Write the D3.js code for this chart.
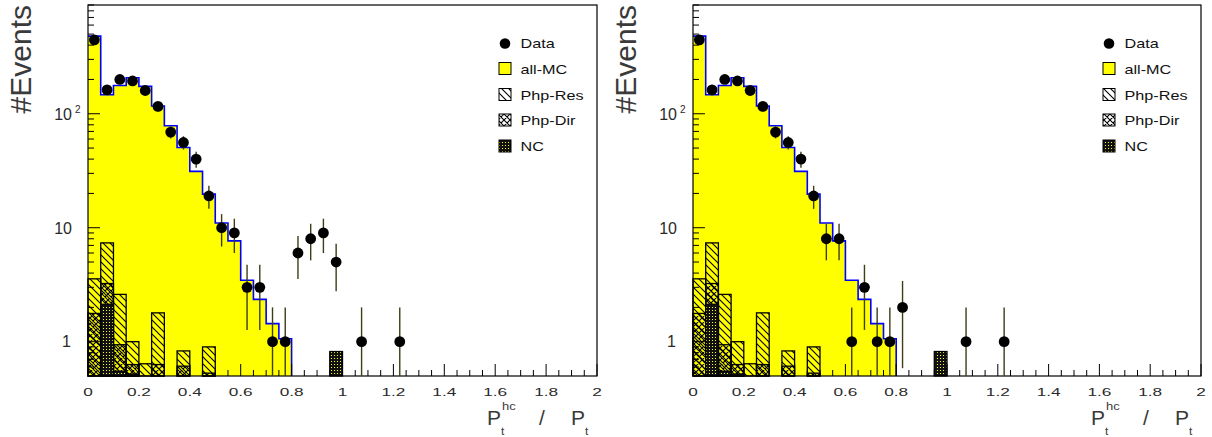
<!DOCTYPE html>
<html>
<head>
<meta charset="utf-8">
<script src="https://cdn.jsdelivr.net/npm/d3@7"></script>
<style>
  html, body { margin: 0; padding: 0; background: #fff; }
  svg { display: block; font-family: "Liberation Sans", Arial, sans-serif; }
</style>
</head>
<body>
<svg id="chart" width="1212" height="437"></svg>
<script>
// Histogram binning: 40 bins of width 0.05 on [0, 2]
const binWidth = 0.05;
const xTicks = [0, 0.2, 0.4, 0.6, 0.8, 1, 1.2, 1.4, 1.6, 1.8, 2];
const xTickLabels = ["0", "0.2", "0.4", "0.6", "0.8", "1", "1.2", "1.4", "1.6", "1.8", "2"];
const yMajor = [1, 10, 100];
const legendLabels = ["Data", "all-MC", "Php-Res", "Php-Dir", "NC"];

// Monte Carlo expectations (per bin, starting at 0)
const allMC  = [480, 147, 177, 207, 174, 117, 78.5, 50.6, 31.2, 19.7, 11, 7.66, 3.46, 2.35, 1.44, 1.06];
const phpRes = [3.56, 7.36, 2.6, 1.0, 0.64, 1.79, 0, 0.83, 0, 0.9];
const phpDir = [1.77, 3.24, 0.94, 0.63, 0, 0.63, 0, 0.61, 0, 0.53];
const ncMC   = [0, 2.13, 0.55, 0.52, 0, 0, 0, 0, 0, 0, 0, 0, 0, 0, 0, 0, 0, 0, 0, 0.82];

// Observed events per bin
const dataLeft  = [445, 162, 200, 194, 160, 116, 69, 56, 40, 19, 10, 9, 3, 3, 1, 1, 6, 8, 9, 5, 0, 1, 0, 0, 1];
const dataRight = [445, 162, 200, 194, 160, 116, 69, 56, 40, 19, 8, 8, 1, 3, 1, 1, 2, 0, 0, 0, 0, 1, 0, 0, 1];

const svg = d3.select("#chart");
const defs = svg.append("defs");
const textColor = "#2a2a2a";

// Fill patterns
const pRes = defs.append("pattern").attr("id", "hatchRes").attr("patternUnits", "userSpaceOnUse")
  .attr("width", 7).attr("height", 7);
pRes.append("path").attr("d", "M-1,-1 L8,8 M-1,6 L1,8 M6,-1 L8,1")
  .attr("stroke", "#000").attr("stroke-width", 1.1);

const pDir = defs.append("pattern").attr("id", "hatchDir").attr("patternUnits", "userSpaceOnUse")
  .attr("width", 6).attr("height", 6);
pDir.append("path").attr("d", "M-1,-1 L7,7 M-1,5 L1,7 M5,-1 L7,1 M-1,7 L7,-1 M-1,1 L1,-1 M5,7 L7,5")
  .attr("stroke", "#000").attr("stroke-width", 1.1);

const pNC = defs.append("pattern").attr("id", "dotsNC").attr("patternUnits", "userSpaceOnUse")
  .attr("width", 3).attr("height", 3);
pNC.append("rect").attr("width", 3).attr("height", 3).attr("fill", "#ffff00");
pNC.append("path").attr("d", "M0,0h3v3h-3z M1,1h1v1h-1z").attr("fill", "#111").attr("fill-rule", "evenodd");

function stretchText(g, x, y, str, size, sx, anchor, color) {
  return g.append("text")
    .attr("transform", `translate(${x},${y}) scale(${sx},1)`)
    .attr("text-anchor", anchor || "start")
    .attr("font-size", size)
    .attr("fill", color || textColor)
    .text(str);
}

function drawPanel(x0, x1, data) {
  const yTop = 5, yBot = 376;
  const x = d3.scaleLinear().domain([0, 2]).range([x0, x1]);
  const y = d3.scaleLog().domain([0.5, 900]).range([yBot, yTop]);
  const g = svg.append("g");

  // all-MC filled histogram
  const steps = [];
  allMC.forEach((v, i) => {
    steps.push([x(i * binWidth), y(v)]);
    steps.push([x((i + 1) * binWidth), y(v)]);
  });
  const area = [[x(0), yBot], ...steps, [x(allMC.length * binWidth), yBot]];
  g.append("path").attr("d", d3.line()(area)).attr("fill", "#ffff00").attr("stroke", "none");

  // Component histograms with hatched fills
  function hatched(values, fillId) {
    values.forEach((v, i) => {
      if (v <= 0) return;
      g.append("rect")
        .attr("x", x(i * binWidth)).attr("width", x((i + 1) * binWidth) - x(i * binWidth))
        .attr("y", y(v)).attr("height", yBot - y(v))
        .attr("fill", `url(#${fillId})`)
        .attr("stroke", "#000").attr("stroke-width", 1.3);
    });
  }
  hatched(phpRes, "hatchRes");
  hatched(phpDir, "hatchDir");
  hatched(ncMC, "dotsNC");

  // all-MC outline
  const outline = [[x(0), y(allMC[0])], ...steps, [x(allMC.length * binWidth), yBot]];
  g.append("path").attr("d", d3.line()(outline)).attr("fill", "none")
    .attr("stroke", "#0000ff").attr("stroke-width", 1.6);

  // Frame
  g.append("rect").attr("x", x0).attr("y", yTop).attr("width", x1 - x0).attr("height", yBot - yTop)
    .attr("fill", "none").attr("stroke", "#000").attr("stroke-width", 1.2);

  // X ticks (inward)
  const xMinor = d3.range(0, 41).map(i => i * binWidth);
  xMinor.forEach(v => {
    const major = Math.abs(v / 0.2 - Math.round(v / 0.2)) < 1e-6;
    const len = major ? 12 : 6;
    g.append("line").attr("x1", x(v)).attr("x2", x(v)).attr("y1", yBot).attr("y2", yBot - len)
      .attr("stroke", "#000").attr("stroke-width", 1);
  });
  xTicks.forEach((v, i) => {
    stretchText(g, x(v), yBot + 19.5, xTickLabels[i], 11.5, 1.5, "middle");
  });

  // Y ticks (log, inward)
  const yMinor = [];
  [0.1, 1, 10, 100].forEach(dec => {
    for (let k = 1; k <= 9; k++) {
      const v = k * dec;
      if (v >= 0.5 && v <= 900) yMinor.push(v);
    }
  });
  yMinor.forEach(v => {
    const major = yMajor.includes(Math.round(v * 1000) / 1000);
    const len = major ? 12 : 6;
    g.append("line").attr("x1", x0).attr("x2", x0 + len).attr("y1", y(v)).attr("y2", y(v))
      .attr("stroke", "#000").attr("stroke-width", 1);
  });
  // Y tick labels
  g.append("text").attr("x", x0 - 17).attr("y", y(1) + 5.5).attr("text-anchor", "end")
    .attr("font-size", 16).attr("fill", textColor).text("1");
  g.append("text").attr("x", x0 - 16).attr("y", y(10) + 5.8).attr("text-anchor", "end")
    .attr("font-size", 16).attr("fill", textColor).text("10");
  g.append("text").attr("x", x0 - 16).attr("y", y(100) + 6.5).attr("text-anchor", "end")
    .attr("font-size", 16).attr("fill", textColor).text("10");
  g.append("text").attr("x", x0 - 13).attr("y", y(100) - 0.5).attr("text-anchor", "start")
    .attr("font-size", 10).attr("fill", textColor).text("2");

  // Y axis title
  g.append("text")
    .attr("transform", `translate(${x0 - 57},${yTop}) rotate(-90)`)
    .attr("text-anchor", "end")
    .attr("font-size", 30).attr("fill", "#3a3a3a")
    .text("#Events");

  // X axis title: P_t^hc / P_t
  const tx = x1 - 110;
  const tc = "#3a3a3a";
  g.append("text").attr("x", tx).attr("y", 425).attr("font-size", 21).attr("fill", tc).text("P");
  stretchText(g, tx + 14, 434.5, "t", 10, 1.2, "start", tc);
  stretchText(g, tx + 15, 410, "hc", 10, 1.3, "start", tc);
  g.append("text").attr("x", tx + 52).attr("y", 425).attr("font-size", 21).attr("fill", tc).text("/");
  g.append("text").attr("x", tx + 84).attr("y", 425).attr("font-size", 21).attr("fill", tc).text("P");
  stretchText(g, tx + 98, 434.5, "t", 10, 1.2, "start", tc);

  // Data points with Poisson error bars
  data.forEach((n, i) => {
    if (n <= 0) return;
    const cx = x((i + 0.5) * binWidth);
    const err = Math.sqrt(n);
    const lo = n - err > 0.5 ? y(n - err) : yBot;
    g.append("line").attr("x1", cx).attr("x2", cx).attr("y1", y(n + err)).attr("y2", lo)
      .attr("stroke", "#3d3d16").attr("stroke-width", 1.4);
    g.append("circle").attr("cx", cx).attr("cy", y(n)).attr("r", 5.4).attr("fill", "#000");
  });

  // Legend
  const lx = x1 - 92, baseY = [48, 73.5, 99.5, 125, 151];
  const lg = g.append("g");
  lg.append("circle").attr("cx", lx).attr("cy", baseY[0] - 4.5).attr("r", 5.3).attr("fill", "#000");
  const boxFills = [null, "#ffff00", "url(#hatchRes)", "url(#hatchDir)", "url(#dotsNC)"];
  for (let k = 1; k < 5; k++) {
    lg.append("rect").attr("x", lx - 6).attr("y", baseY[k] - 11).attr("width", 12).attr("height", 12)
      .attr("fill", "#fff").attr("stroke", "none");
    lg.append("rect").attr("x", lx - 6).attr("y", baseY[k] - 11).attr("width", 12).attr("height", 12)
      .attr("fill", boxFills[k]).attr("stroke", "#000").attr("stroke-width", 1);
  }
  legendLabels.forEach((t, k) => {
    stretchText(lg, lx + 15.5, baseY[k], t, 12, 1.35, "start", "#111");
  });
}

drawPanel(88, 597, dataLeft);
drawPanel(693, 1201, dataRight);
</script>
</body>
</html>
